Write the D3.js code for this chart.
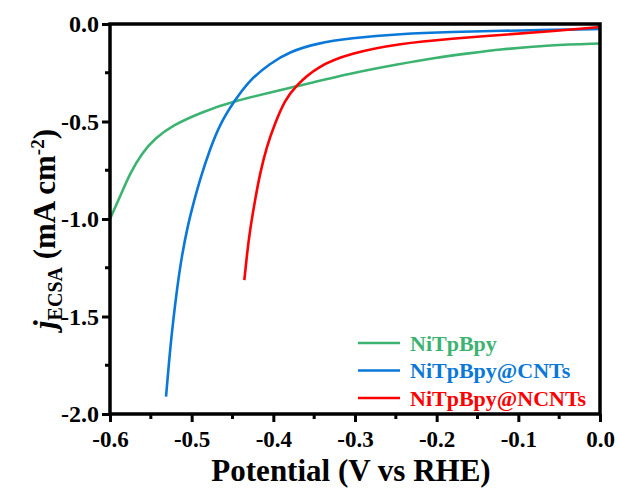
<!DOCTYPE html>
<html>
<head>
<meta charset="utf-8">
<script src="https://cdn.jsdelivr.net/npm/d3@7"></script>
<style>
body { margin: 0; background: #fff; }
text { font-family: "Liberation Serif", "Times New Roman", serif; font-weight: bold; }
</style>
</head>
<body>
<div id="chart"></div>
<script>
// series (V vs RHE, mA cm-2)
var seriesNames = ["NiTpBpy", "NiTpBpy@CNTs", "NiTpBpy@NCNTs"];
var seriesColors = ["#3cb371", "#0a78d8", "#ff0000"];

var greenV = [-0.6, -0.5878, -0.5755, -0.5612, -0.5449, -0.5225, -0.49, -0.449, -0.373, -0.306, -0.245, -0.204, -0.16, -0.122, -0.061, 0.0];
var greenJ = [-1.0, -0.886, -0.766, -0.663, -0.586, -0.518, -0.456, -0.395, -0.321, -0.253, -0.205, -0.175, -0.15, -0.13, -0.108, -0.1];

var blueV = [-0.5314, -0.5265, -0.5225, -0.5183, -0.5122, -0.5041, -0.4968, -0.49, -0.478, -0.465, -0.447, -0.429, -0.404, -0.38, -0.347, -0.306, -0.245, -0.18, -0.12, -0.06, 0.0];
var blueJ = [-1.911, -1.672, -1.518, -1.37, -1.19, -1.02, -0.903, -0.8, -0.646, -0.509, -0.39, -0.287, -0.202, -0.142, -0.099, -0.073, -0.05, -0.04, -0.035, -0.03, -0.026];

var redV = [-0.4355, -0.4326, -0.4286, -0.4224, -0.4163, -0.4081, -0.398, -0.3857, -0.3735, -0.347, -0.306, -0.245, -0.18, -0.122, -0.061, 0.0];
var redJ = [-1.313, -1.193, -1.056, -0.903, -0.766, -0.629, -0.509, -0.39, -0.321, -0.219, -0.15, -0.1, -0.075, -0.056, -0.038, -0.015];

var xTicks = [-0.6, -0.5, -0.4, -0.3, -0.2, -0.1, 0.0];
var yTicks = [0.0, -0.5, -1.0, -1.5, -2.0];
var xMinor = [-0.55, -0.45, -0.35, -0.25, -0.15, -0.05];
var yMinor = [-0.25, -0.75, -1.25, -1.75];

var width = 619, height = 489;
var margin = {top: 24, right: 19, bottom: 75, left: 110};
var w = width - margin.left - margin.right;
var h = height - margin.top - margin.bottom;

var svg = d3.select("#chart").append("svg")
    .attr("width", width)
    .attr("height", height);

var g = svg.append("g")
    .attr("transform", "translate(" + margin.left + "," + margin.top + ")");

var x = d3.scaleLinear().domain([-0.6, 0.0]).range([0, w]);
var y = d3.scaleLinear().domain([-2.0, 0.0]).range([h, 0]);

// basis spline smooths out the small reading errors
var line = d3.line()
    .x(function(d) { return x(d[0]); })
    .y(function(d) { return y(d[1]); })
    .curve(d3.curveBasis);

var all = [d3.zip(greenV, greenJ), d3.zip(blueV, blueJ), d3.zip(redV, redJ)];

g.selectAll(".curve")
    .data(all)
    .enter().append("path")
    .attr("class", "curve")
    .attr("d", line)
    .attr("fill", "none")
    .attr("stroke", function(d, i) { return seriesColors[i]; })
    .attr("stroke-width", 2.6);

// plain hyphen for the minus sign, as in the original
var fmt = function(d) { return d === 0 ? "0.0" : "-" + Math.abs(d).toFixed(1); };

// axes
var xAxis = g.append("g")
    .attr("transform", "translate(0," + h + ")")
    .call(d3.axisBottom(x).tickValues(xTicks).tickSize(8).tickPadding(9).tickFormat(fmt));
xAxis.append("g").selectAll("line").data(xMinor).enter().append("line")
    .attr("x1", x).attr("x2", x).attr("y1", 0).attr("y2", 5)
    .attr("stroke", "#000").attr("stroke-width", 3);

var yAxis = g.append("g")
    .call(d3.axisLeft(y).tickValues(yTicks).tickSize(8).tickPadding(3).tickFormat(fmt));
yAxis.append("g").selectAll("line").data(yMinor).enter().append("line")
    .attr("y1", y).attr("y2", y).attr("x1", 0).attr("x2", -5)
    .attr("stroke", "#000").attr("stroke-width", 3);

[xAxis, yAxis].forEach(function(a) {
    a.attr("font-family", null);
    a.select(".domain").remove();
    a.selectAll(".tick line").attr("stroke", "#000").attr("stroke-width", 3);
    a.selectAll(".tick text").attr("fill", "#000").style("font-size", "24px");
});
xAxis.selectAll(".tick text").style("font-size", "23px");

// frame
g.append("rect")
    .attr("x", 0).attr("y", 0).attr("width", w).attr("height", h)
    .attr("fill", "none").attr("stroke", "#000").attr("stroke-width", 3.5);

// axis titles
svg.append("text")
    .attr("x", 351)
    .attr("y", 481)
    .attr("text-anchor", "middle")
    .style("font-size", "31px")
    .text("Potential (V vs RHE)");

var yt = svg.append("text")
    .attr("transform", "translate(55,229) rotate(-90)")
    .attr("text-anchor", "middle")
    .style("font-size", "31px");
yt.append("tspan").style("font-style", "italic").text("j");
yt.append("tspan").attr("dy", 7).style("font-size", "20px").text("ECSA");
yt.append("tspan").attr("dy", -7).text(" (mA cm");
yt.append("tspan").attr("dy", -11).style("font-size", "19px").text("-2");
yt.append("tspan").attr("dy", 11).text(")");

// legend
var legend = svg.append("g").attr("transform", "translate(358,343)");
seriesNames.forEach(function(name, i) {
    var row = legend.append("g").attr("transform", "translate(0," + (i * 27.5) + ")");
    row.append("line").attr("x1", 0).attr("x2", 42).attr("y1", 0).attr("y2", 0)
        .attr("stroke", seriesColors[i]).attr("stroke-width", 2.6);
    row.append("text").attr("x", 52).attr("y", 0).attr("dy", "0.35em")
        .attr("fill", seriesColors[i]).style("font-size", "22px").text(name);
});
</script>
</body>
</html>
